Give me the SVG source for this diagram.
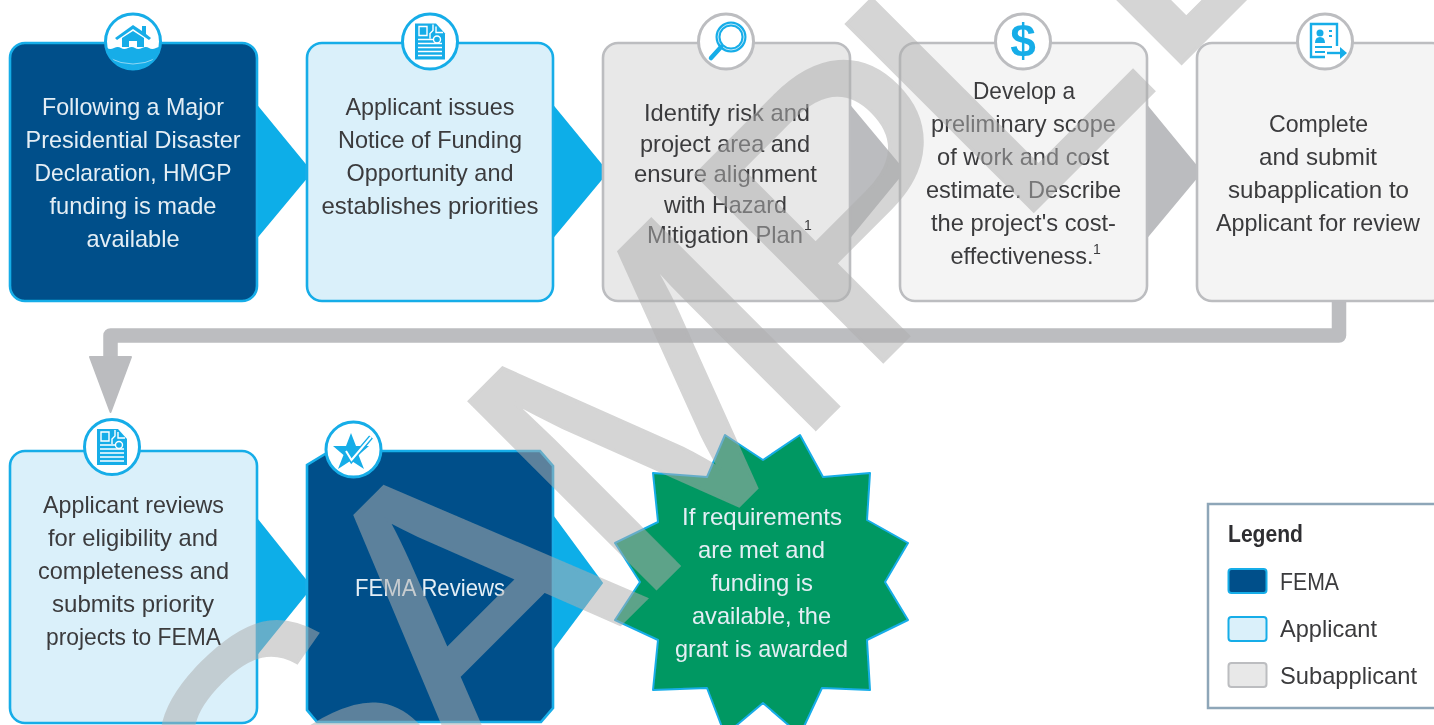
<svg xmlns="http://www.w3.org/2000/svg" xmlns:xlink="http://www.w3.org/1999/xlink" width="1434" height="725" viewBox="0 0 1434 725">
<style>
text{font-family:"Liberation Sans",Arial,sans-serif;font-size:24px}
.c{text-anchor:middle}
.dk{fill:#3b3b3d}
.wt{fill:#e4eef5}
.sup{font-size:14px}
.box{stroke-width:2.6}
.fema{fill:#01508a;stroke:#17ade8}
.appl{fill:#daf0fa;stroke:#17ade8}
.sub1{fill:#e8e8e8;stroke:#bcbdc0}
.sub2{fill:#f4f4f4;stroke:#bcbdc0}
.ring{fill:#fff;stroke-width:3}
.rb{stroke:#17ade8}
.rg{stroke:#bcbdc0}
.blue{fill:#17ade8}
.wl{stroke:#fff;stroke-width:1.4;fill:none}
.bl{stroke:#17ade8;fill:none}
.arr{fill:#11aee8;stroke:#11aee8;stroke-width:2;stroke-linejoin:round}
.garr{fill:#bbbcbf;stroke:#bbbcbf;stroke-width:2;stroke-linejoin:round}
</style>
<defs>
<filter id="soft" x="0" y="0" width="1434" height="725" filterUnits="userSpaceOnUse"><feGaussianBlur stdDeviation="0.45"/></filter>
<g id="doc">
<path class="blue" d="M-15-18H6L15-8V18H-15Z"/>
<path class="wl" d="M-11-15h8v9h-8zM-12-2H3M-12 2H12M-12 6H12M-12 10H12M-12 14H12M3-17v6l-3 3v5M6-15v6h7"/>
<circle class="wl" cx="7" cy="-2" r="3.500"/>
</g>
<clipPath id="house-clip"><circle cx="133" cy="41.500" r="27"/></clipPath>
</defs>
<g filter="url(#soft)">
<rect width="1434" height="725" fill="#fff"/>
<g id="connectors">
<path class="arr" d="M256 105L311 172L256 238Z"/>
<path class="arr" d="M552 105L607 172L552 238Z"/>
<path class="garr" d="M849 105L904 171L849 238Z"/>
<path class="garr" d="M1146 105L1201 172L1146 238Z"/>
<path class="arr" d="M256 518L311 587L256 655Z"/>
<path class="arr" d="M552 515L602 583L552 650Z"/>
<path d="M1339 300V335.500H110.500V360" fill="none" stroke="#bcbdc0" stroke-width="14.500" stroke-linejoin="round"/>
<path class="garr" d="M90 357H131L110.500 412Z"/>
</g>

<g id="node-declaration">
<rect class="box fema" x="10" y="43" width="247" height="258" rx="15"/>
<circle class="ring rb" cx="133" cy="41.500" r="27.500"/>
<g clip-path="url(#house-clip)">
<path class="blue" d="M100 48q4-2 7 0t7 0t7 0t7 0t7 0t7 0t7 0t7 0t7 0t7 0V75H100Z"/>
<path d="M109 58Q133 70 157 58" fill="none" stroke="#8fd6f3" stroke-width="1"/>
</g>
<path class="blue" d="M115 38L133 25L142 31V26H146V34L151 38L149 40L133 29L117 40Z"/>
<path class="blue" d="M122 38L133 31L144 38V47H137V41H129V47H122Z"/>
<text class="c wt" x="133" y="115" textLength="182" lengthAdjust="spacingAndGlyphs">Following a Major</text>
<text class="c wt" x="133" y="148" textLength="215" lengthAdjust="spacingAndGlyphs">Presidential Disaster</text>
<text class="c wt" x="133" y="181" textLength="197" lengthAdjust="spacingAndGlyphs">Declaration, HMGP</text>
<text class="c wt" x="133" y="214" textLength="167" lengthAdjust="spacingAndGlyphs">funding is made</text>
<text class="c wt" x="133" y="247" textLength="93" lengthAdjust="spacingAndGlyphs">available</text>
</g>

<g id="node-notice">
<rect class="box appl" x="307" y="43" width="246" height="258" rx="15"/>
<circle class="ring rb" cx="430" cy="41.500" r="27.500"/>
<use xlink:href="#doc" href="#doc" x="430" y="41.500"/>
<text class="c dk" x="430" y="115" textLength="169" lengthAdjust="spacingAndGlyphs">Applicant issues</text>
<text class="c dk" x="430" y="148" textLength="184" lengthAdjust="spacingAndGlyphs">Notice of Funding</text>
<text class="c dk" x="430" y="181" textLength="167" lengthAdjust="spacingAndGlyphs">Opportunity and</text>
<text class="c dk" x="430" y="214" textLength="217" lengthAdjust="spacingAndGlyphs">establishes priorities</text>
</g>

<g id="node-identify">
<rect class="box sub1" x="603" y="43" width="247" height="258" rx="15"/>
<circle class="ring rg" cx="726" cy="41.500" r="27.500"/>
<circle cx="731" cy="37" r="13" fill="none" stroke="#17ade8" stroke-width="5"/>
<circle cx="731" cy="37" r="13" fill="none" stroke="#bfe8f8" stroke-width="1"/>
<path d="M721 47L711 58" stroke="#17ade8" stroke-width="4.500" stroke-linecap="round"/>
<text class="c dk" x="727" y="121" textLength="166" lengthAdjust="spacingAndGlyphs">Identify risk and</text>
<text class="c dk" x="725" y="152" textLength="170" lengthAdjust="spacingAndGlyphs">project area and</text>
<text class="c dk" x="725.500" y="182" textLength="183" lengthAdjust="spacingAndGlyphs">ensure alignment</text>
<text class="c dk" x="725.500" y="213" textLength="123" lengthAdjust="spacingAndGlyphs">with Hazard</text>
<text class="c dk" x="725" y="243" textLength="156" lengthAdjust="spacingAndGlyphs">Mitigation Plan</text>
<text class="dk sup" x="804" y="230">1</text>
</g>

<g id="node-scope">
<rect class="box sub2" x="900" y="43" width="247" height="258" rx="15"/>
<circle class="ring rg" cx="1023" cy="41.500" r="27.500"/>
<text class="c" x="1023" y="57" style="font-size:46px;font-weight:bold;fill:#17ade8">$</text>
<text class="c dk" x="1024" y="99" textLength="102" lengthAdjust="spacingAndGlyphs">Develop a</text>
<text class="c dk" x="1023.500" y="132" textLength="185" lengthAdjust="spacingAndGlyphs">preliminary scope</text>
<text class="c dk" x="1023" y="165" textLength="172" lengthAdjust="spacingAndGlyphs">of work and cost</text>
<text class="c dk" x="1023.500" y="198" textLength="195" lengthAdjust="spacingAndGlyphs">estimate. Describe</text>
<text class="c dk" x="1023.500" y="231" textLength="185" lengthAdjust="spacingAndGlyphs">the project's cost-</text>
<text class="c dk" x="1022" y="264" textLength="143" lengthAdjust="spacingAndGlyphs">effectiveness.</text>
<text class="dk sup" x="1093" y="254">1</text>
</g>

<g id="node-submit">
<rect class="box sub2" x="1197" y="43" width="250" height="258" rx="15"/>
<circle class="ring rg" cx="1325" cy="41.500" r="27.500"/>
<path d="M1337 46V24H1311V57H1325" class="bl" stroke-width="2.400"/>
<circle class="blue" cx="1320" cy="33" r="3.500"/>
<path class="blue" d="M1315 43Q1315 37 1320 37Q1325 37 1325 43Z"/>
<path class="bl" stroke-width="2" d="M1315 47H1332M1315 52H1325"/>
<path class="bl" stroke-width="1.800" d="M1329 31h3M1329 36h3"/>
<path class="bl" stroke-width="2.400" d="M1327 53H1344"/>
<path class="blue" d="M1340 47L1347 53L1340 59Z"/>
<text class="c dk" x="1318.500" y="132" textLength="99" lengthAdjust="spacingAndGlyphs">Complete</text>
<text class="c dk" x="1318" y="165" textLength="118" lengthAdjust="spacingAndGlyphs">and submit</text>
<text class="c dk" x="1318.500" y="198" textLength="181" lengthAdjust="spacingAndGlyphs">subapplication to</text>
<text class="c dk" x="1318" y="231" textLength="204" lengthAdjust="spacingAndGlyphs">Applicant for review</text>
</g>

<g id="node-review">
<rect class="box appl" x="10" y="451" width="247" height="272" rx="15"/>
<circle class="ring rb" cx="112" cy="447" r="27.500"/>
<use xlink:href="#doc" href="#doc" x="112" y="447"/>
<text class="c dk" x="133.500" y="513" textLength="181" lengthAdjust="spacingAndGlyphs">Applicant reviews</text>
<text class="c dk" x="133" y="546" textLength="170" lengthAdjust="spacingAndGlyphs">for eligibility and</text>
<text class="c dk" x="133.500" y="579" textLength="191" lengthAdjust="spacingAndGlyphs">completeness and</text>
<text class="c dk" x="133" y="612" textLength="162" lengthAdjust="spacingAndGlyphs">submits priority</text>
<text class="c dk" x="133.500" y="645" textLength="175" lengthAdjust="spacingAndGlyphs">projects to FEMA</text>
</g>

<g id="node-fema-reviews">
<path class="box fema" d="M330 451H540L553 466V708L541 722H317L307 710V465Z"/>
<circle class="ring rb" cx="353.500" cy="449.500" r="27.500"/>
<path class="blue" d="M351 433L356 446L369 446L358.500 455L364 469L351 460.500L338 469L343.500 455L333 446L346 446Z"/>
<path d="M346 451L351.500 460L371 437" fill="none" stroke="#17ade8" stroke-width="5"/>
<path d="M346 451L351.500 460L371 437" fill="none" stroke="#fff" stroke-width="2"/>
<text class="c wt" x="430" y="596" textLength="150" lengthAdjust="spacingAndGlyphs">FEMA Reviews</text>
</g>

<g id="node-grant">
<path d="M725 435L763 460L800 435L823 477L870 473L867 520L908 543L885 582L908 620L867 640L870 690L822 688L800 735L763 703L725 735L707 688L653 690L658 640L615 620L640 582L615 543L658 522L653 473L707 477Z" fill="#059862" stroke="#17ade8" stroke-width="2" stroke-linejoin="round"/>
<text class="c wt" x="762" y="525" textLength="160" lengthAdjust="spacingAndGlyphs">If requirements</text>
<text class="c wt" x="761.500" y="558" textLength="127" lengthAdjust="spacingAndGlyphs">are met and</text>
<text class="c wt" x="762" y="591" textLength="102" lengthAdjust="spacingAndGlyphs">funding is</text>
<text class="c wt" x="761.500" y="624" textLength="139" lengthAdjust="spacingAndGlyphs">available, the</text>
<text class="c wt" x="761.500" y="657" textLength="173" lengthAdjust="spacingAndGlyphs">grant is awarded</text>
</g>

<g id="legend">
<rect x="1208" y="504" width="240" height="204" fill="#fff" stroke="#8ea6b8" stroke-width="2.500"/>
<text x="1228" y="542" textLength="75" lengthAdjust="spacingAndGlyphs" style="font-weight:bold;fill:#2e2e30">Legend</text>
<rect class="fema" x="1228.500" y="569" width="38" height="24" rx="3" stroke-width="2"/>
<text class="dk" x="1280" y="590" textLength="59" lengthAdjust="spacingAndGlyphs">FEMA</text>
<rect class="appl" x="1228.500" y="617" width="38" height="24" rx="3" stroke-width="2"/>
<text class="dk" x="1280" y="637" textLength="97" lengthAdjust="spacingAndGlyphs">Applicant</text>
<rect class="sub1" x="1228.500" y="663" width="38" height="24" rx="3" stroke-width="2"/>
<text class="dk" x="1280" y="684" textLength="137" lengthAdjust="spacingAndGlyphs">Subapplicant</text>
</g>

<text id="watermark" transform="translate(271 974) rotate(-45)" dx="41 -23 -18 0 -44 -5" style="font-size:385px" fill="#aeaeae" stroke="#aeaeae" stroke-width="3" opacity="0.52">SAMPLE</text>
</g>
</svg>
